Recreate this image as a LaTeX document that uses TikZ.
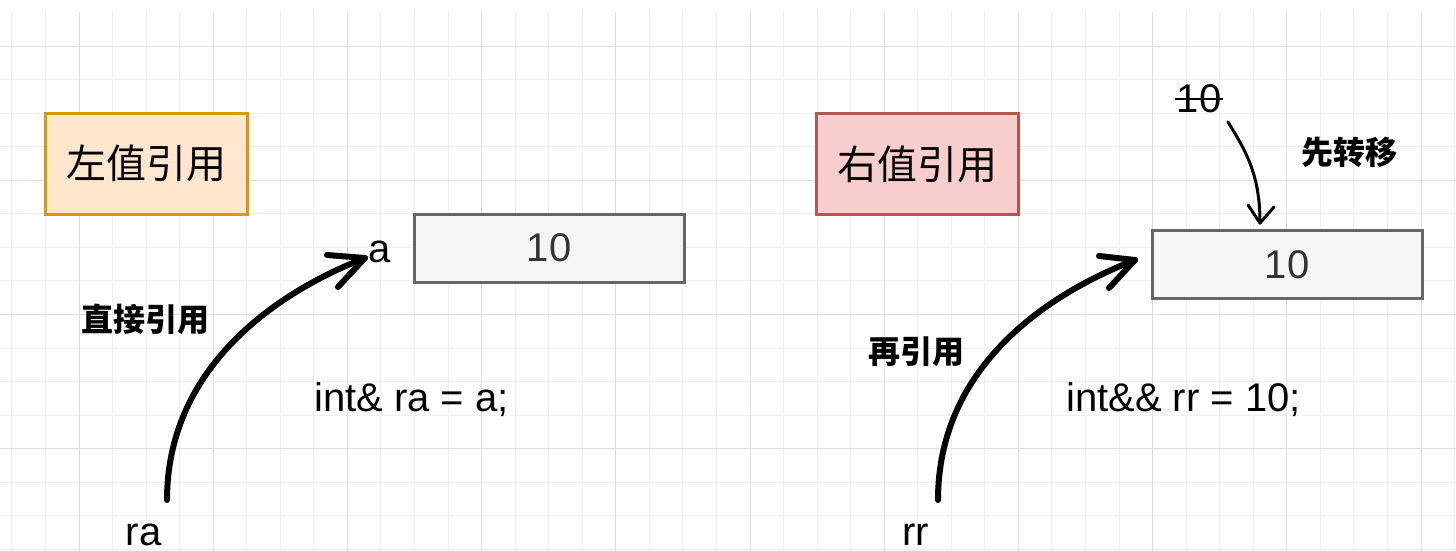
\documentclass[tikz,border=0pt]{standalone}
\usepackage{fontspec}
\setmainfont{Liberation Sans}
\newfontfamily\cjk{Noto Sans CJK SC}
\usetikzlibrary{calc}
\definecolor{orfill}{HTML}{FFE6CC}
\definecolor{ordraw}{HTML}{D79B00}
\definecolor{rdfill}{HTML}{F8CECC}
\definecolor{rddraw}{HTML}{B85450}
\definecolor{gyfill}{HTML}{F5F5F5}
\definecolor{gydraw}{HTML}{666666}
\definecolor{gytext}{HTML}{333333}
\definecolor{gridminor}{HTML}{EFEFEF}
\definecolor{gridmajor}{HTML}{DFDFDF}
\begin{document}
\begin{tikzpicture}[x=1pt,y=-1pt,
  titlebox/.style={draw, line width=3pt, minimum width=202pt, minimum height=101pt, inner sep=0pt, font=\cjk\fontsize{40}{48}\selectfont},
  valbox/.style={draw=gydraw, fill=gyfill, text=gytext, line width=3pt, minimum width=270pt, minimum height=68pt, inner sep=0pt, font=\fontsize{40}{48}\selectfont},
  lbl/.style={inner sep=0pt, font=\fontsize{40}{48}\selectfont},
  boldlbl/.style={inner sep=0pt, font=\cjk\bfseries\fontsize{32}{38}\selectfont},
  bigarrow/.style={line width=6pt, line cap=round, line join=round},
  thinarrow/.style={line width=3pt, line cap=round, line join=round},
  gridline/.style={line width=1pt},
]
\fill[white] (0,0) rectangle (1456,551);
\useasboundingbox (0,0) rectangle (1456,551);
% grid
\foreach \k in {0,...,43} \draw[gridline, gridminor] ({11.9+\k*33.55},12.5) -- ({11.9+\k*33.55},551);
\foreach \k in {1,...,16} \draw[gridline, gridminor] (0,{12.5+\k*33.55}) -- (1456,{12.5+\k*33.55});
\foreach \k in {2,6,...,42} \draw[gridline, gridmajor] ({11.9+\k*33.55},12.5) -- ({11.9+\k*33.55},551);
\foreach \k in {1,5,9,13} \draw[gridline, gridmajor] (0,{12.5+\k*33.55}) -- (1456,{12.5+\k*33.55});

% boxes
\node[titlebox, draw=ordraw, fill=orfill] (lt) at (146,163.5) {左值引用};
\node[titlebox, draw=rddraw, fill=rdfill] (rt) at (917.5,164) {右值引用};
\node[valbox] (lv) at (549,248) {10};
\node[valbox] (rv) at (1287,264.5) {10};

% labels
\node[lbl, anchor=base west] (la) at (368,262) {a};
\node[lbl, anchor=base west] (ra) at (125.5,545) {ra};
\node[lbl, anchor=base west] (rr) at (902,545) {rr};
\node[lbl, anchor=base west] (lc) at (314,411) {int\& ra = a;};
\node[lbl, anchor=base west] (rc) at (1066,411) {int\&\& rr = 10;};
\node[lbl, anchor=base] (s10) at (1199,112) {10};
\draw[line width=2pt] ([shift={(-2,-13)}]s10.base west) -- ([shift={(2,-13)}]s10.base east);
\node[boldlbl] (l1) at (145,319) {直接引用};
\node[boldlbl] (l2) at (916,352) {再引用};
\node[boldlbl] (l3) at (1349,152) {先转移};

% arrows
\coordinate (p1) at (167,500);
\coordinate (p2) at (365,258);
\draw[bigarrow] (p1) .. controls +(0,-130) and +(-93,36) .. (p2);
\draw[bigarrow] ([shift={(-38,-3)}]p2) -- (p2) -- ([shift={(-27,29)}]p2);

\coordinate (p3) at (938,500);
\coordinate (p4) at (1135,260);
\draw[bigarrow] (p3) .. controls +(0,-130) and +(-93,36) .. (p4);
\draw[bigarrow] ([shift={(-36,-4)}]p4) -- (p4) -- ([shift={(-26,28)}]p4);

\coordinate (p5) at (1228,122);
\coordinate (p6) at (1260,223);
\draw[thinarrow] (p5) .. controls +(17,28) and +(0,-50) .. (p6);
\draw[thinarrow] ([shift={(-12,-18)}]p6) -- (p6) -- ([shift={(14,-16)}]p6);
\end{tikzpicture}
\end{document}
